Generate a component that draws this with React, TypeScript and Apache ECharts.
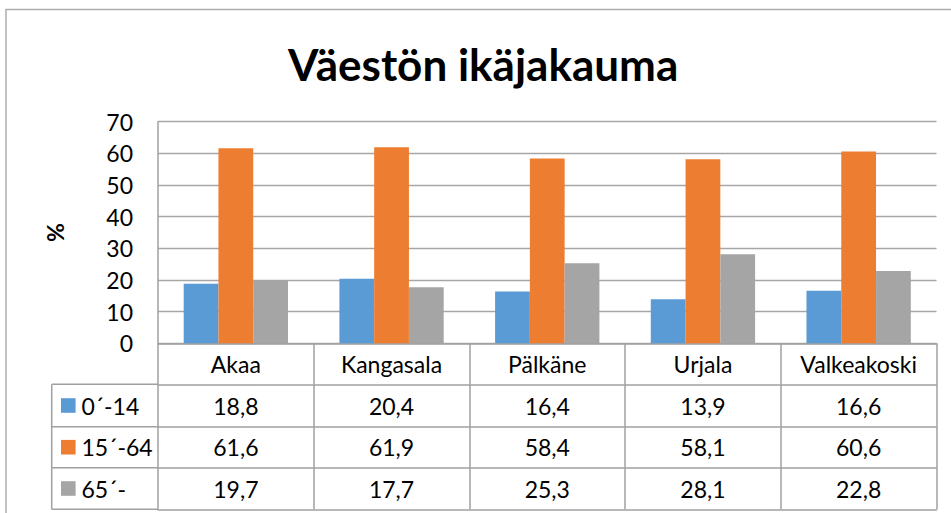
import React, { useEffect, useRef } from "react";
import * as echarts from "echarts";

const categories = ["Akaa", "Kangasala", "Pälkäne", "Urjala", "Valkeakoski"];
const seriesNames = ["0´-14", "15´-64", "65´-"];
const age0to14 = [18.8, 20.4, 16.4, 13.9, 16.6];
const age15to64 = [61.6, 61.9, 58.4, 58.1, 60.6];
const age65plus = [19.7, 17.7, 25.3, 28.1, 22.8];
const yTicks = { min: 0, max: 70, interval: 10 };

const colors = ["#5b9bd5", "#ed7d31", "#a5a5a5"];
const FONT = "Lato";
const LINE = "#a0a0a0";
const FS = 23;

const fmt = (v: number) => v.toFixed(1).replace(".", ",");

export default function App() {
  const ref = useRef<HTMLDivElement>(null);
  useEffect(() => {
    if (!ref.current) return;
    const chart = echarts.init(ref.current, undefined, { renderer: "svg" });
    const H = 513;
    const gridLeft = 158;
    const gridRight = 14.5;
    const gridTop = 121.7;
    const gridBottomY = 343.3;
    const rowTops = [384.3, 426.7, 467.7, 509.3];
    const tableLeft = 51.7;
    const allSeries = [age0to14, age15to64, age65plus];

    const baseAxis = (data: string[], offset: number, tickLen: number, showLabel: boolean) => ({
      type: "category",
      data,
      position: "bottom",
      offset,
      boundaryGap: true,
      axisLine: { show: true, lineStyle: { color: LINE, width: 1.5 } },
      axisTick: { show: tickLen > 0, length: tickLen, lineStyle: { color: LINE, width: 1.5 } },
      axisLabel: {
        show: showLabel,
        fontSize: FS,
        fontFamily: FONT,
        color: "#000",
        margin: tickLen / 2,
        verticalAlign: "middle",
        interval: 0,
      },
      splitLine: { show: false },
    });

    const xAxes: any[] = [baseAxis(categories, 0, rowTops[0] - gridBottomY, true)];
    allSeries.forEach((vals, i) => {
      xAxes.push(
        baseAxis(vals.map(fmt), rowTops[i] - gridBottomY, rowTops[i + 1] - rowTops[i], true)
      );
    });
    xAxes.push(baseAxis(categories.map(() => ""), rowTops[3] - gridBottomY, 0, false));

    const graphics: any[] = [
      {
        type: "rect",
        shape: { x: 6, y: 9.5, width: 1200, height: 800 },
        style: { fill: "none", stroke: "#adadad", lineWidth: 1.5 },
        silent: true,
      },
      {
        type: "line",
        shape: { x1: tableLeft, y1: rowTops[0], x2: tableLeft, y2: rowTops[3] },
        style: { stroke: LINE, lineWidth: 1.5 },
      },
    ];
    rowTops.forEach((y) => {
      graphics.push({
        type: "line",
        shape: { x1: tableLeft, y1: y, x2: gridLeft, y2: y },
        style: { stroke: LINE, lineWidth: 1.5 },
      });
    });
    seriesNames.forEach((name, i) => {
      const cy = (rowTops[i] + rowTops[i + 1]) / 2;
      graphics.push({
        type: "rect",
        shape: { x: 61, y: cy - 7.3, width: 14.6, height: 14.6 },
        style: { fill: colors[i] },
      });
      graphics.push({
        type: "text",
        x: 81.5,
        y: cy,
        style: {
          text: name,
          fontSize: FS,
          fontFamily: FONT,
          fill: "#000",
          verticalAlign: "middle",
          align: "left",
        },
      });
    });

    chart.setOption({
      animation: false,
      backgroundColor: "#fff",
      title: {
        text: "Väestön ikäjakauma",
        left: 283,
        top: 37,
        textStyle: { fontSize: 44, fontWeight: "bold", fontFamily: FONT, color: "#000" },
      },
      grid: {
        left: gridLeft,
        right: gridRight,
        top: gridTop,
        bottom: H - gridBottomY,
        containLabel: false,
      },
      xAxis: xAxes,
      yAxis: {
        type: "value",
        min: yTicks.min,
        max: yTicks.max,
        interval: yTicks.interval,
        name: "%",
        nameLocation: "middle",
        nameRotate: 90,
        nameGap: 92,
        nameTextStyle: { fontSize: FS, fontWeight: "bold", fontFamily: FONT, color: "#000" },
        axisLine: { show: true, lineStyle: { color: LINE, width: 1.5 } },
        axisTick: { show: false },
        axisLabel: { fontSize: FS, fontFamily: FONT, color: "#000", margin: 25 },
        splitLine: { show: true, lineStyle: { color: "#a6a6a6", width: 1.3 } },
      },
      series: allSeries.map((vals, i) => ({
        name: seriesNames[i],
        type: "bar",
        xAxisIndex: 0,
        data: vals,
        barGap: "0%",
        barCategoryGap: "33%",
        itemStyle: { color: colors[i] },
      })),
      graphic: graphics,
    });
    return () => chart.dispose();
  }, []);
  return (
    <div ref={ref} style={{ position: "fixed", left: 0, top: 0, width: 951, height: 513 }} />
  );
}
